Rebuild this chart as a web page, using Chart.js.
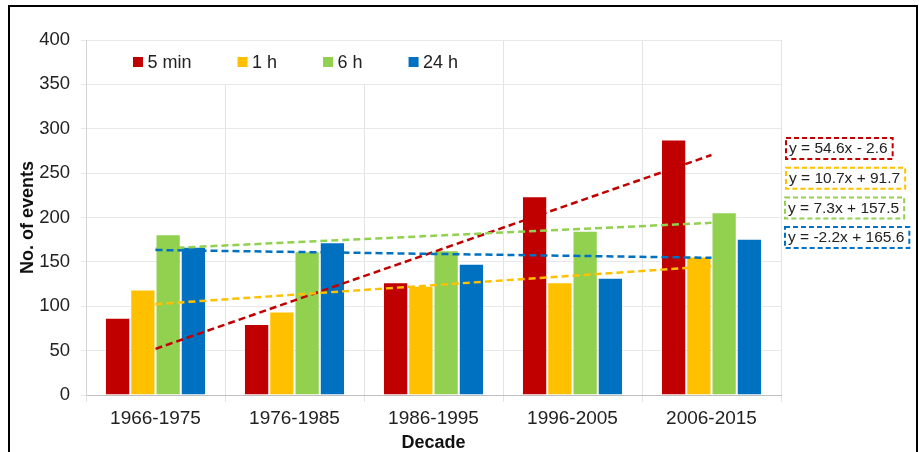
<!DOCTYPE html>
<html>
<head>
<meta charset="utf-8">
<script src="https://cdn.jsdelivr.net/npm/chart.js@4.4.1/dist/chart.umd.min.js"></script>
<style>
  html, body { margin: 0; padding: 0; background: #fff; }
  #wrap { position: relative; width: 919px; height: 452px; }
</style>
</head>
<body>
<div id="wrap"><canvas id="chart" width="919" height="452"></canvas></div>
<script>
// Number of heavy-rain events per decade, by duration
const decades = ['1966-1975', '1976-1985', '1986-1995', '1996-2005', '2006-2015'];
const seriesNames = ['5 min', '1 h', '6 h', '24 h'];
const seriesColors = ['#C00000', '#FFC000', '#92D050', '#0070C0'];
const events5min = [87, 80, 127, 224, 288];
const events1h = [119, 94, 123, 127, 156];
const events6h = [181, 162, 163, 185, 206];
const events24h = [167, 172, 148, 132, 176];

// Linear trends (x = decade number 1..5)
const trendSlope = [54.6, 10.7, 7.3, -2.2];
const trendIntercept = [-2.6, 91.7, 157.5, 165.6];

const yMin = 0, yMax = 400, yStep = 50;

const FONT = "'Liberation Sans', Arial, Helvetica, sans-serif";
Chart.defaults.font.family = FONT;
Chart.defaults.color = '#222';

const seriesValues = [events5min, events1h, events6h, events24h];

const barSets = seriesValues.map((vals, i) => ({
  type: 'bar',
  label: seriesNames[i],
  data: vals,
  backgroundColor: seriesColors[i],
  borderColor: 'rgba(255,255,255,0.35)',
  borderWidth: 1,
  categoryPercentage: 0.727,
  barPercentage: 1,
  order: 2
}));

const trendSets = seriesValues.map((vals, i) => ({
  type: 'line',
  label: 'trend ' + seriesNames[i],
  data: decades.map((_, k) => trendIntercept[i] + trendSlope[i] * (k + 1)),
  borderColor: seriesColors[i],
  borderDash: [7, 4],
  borderWidth: 2.5,
  pointRadius: 0,
  fill: false,
  tension: 0,
  order: 1 - i * 0.1
}));

function equationText(i) {
  const b = trendIntercept[i];
  return 'y = ' + trendSlope[i].toFixed(1) + 'x ' + (b < 0 ? '- ' : '+ ') + Math.abs(b).toFixed(1);
}

// In-plot legend, trend equations and outer frame
const decorations = {
  id: 'decorations',
  beforeDatasetsDraw(chart) {
    const ctx = chart.ctx;
    const area = chart.chartArea;
    ctx.save();
    ctx.fillStyle = '#fff';
    ctx.fillRect(area.left + 1, area.top + 1, 400, 43);
    ctx.font = '18px ' + FONT;
    ctx.textBaseline = 'middle';
    let x = 133;
    const yc = 62;
    chart.data.datasets.forEach(ds => {
      if (ds.type !== 'bar') return;
      ctx.fillStyle = ds.backgroundColor;
      ctx.fillRect(x, yc - 5, 10, 10);
      ctx.fillStyle = '#222';
      ctx.fillText(ds.label, x + 14.5, yc + 1);
      x += 14.5 + ctx.measureText(ds.label).width + 46;
    });
    ctx.restore();
  },
  afterDraw(chart) {
    const ctx = chart.ctx;
    ctx.save();
    ctx.font = '15.5px ' + FONT;
    ctx.textBaseline = 'middle';
    seriesNames.forEach((_, i) => {
      const txt = equationText(i);
      const w = ctx.measureText(txt).width + 8;
      const left = 786 - (i >= 2 ? 1 : 0);
      const top = 138 + i * 29.7;
      ctx.fillStyle = '#fff';
      ctx.fillRect(left, top, w, 21);
      ctx.setLineDash([5, 3]);
      ctx.lineWidth = 2;
      ctx.strokeStyle = seriesColors[i];
      ctx.strokeRect(left, top, w, 21);
      ctx.setLineDash([]);
      ctx.fillStyle = '#222';
      ctx.fillText(txt, left + 3, top + 11);
    });
    ctx.lineWidth = 2;
    ctx.strokeStyle = '#000';
    ctx.strokeRect(9, 6, 908, 600);
    ctx.restore();
  }
};

new Chart(document.getElementById('chart'), {
  data: {
    labels: decades,
    datasets: [...barSets, ...trendSets]
  },
  options: {
    responsive: false,
    animation: false,
    events: [],
    layout: { padding: { left: 10, top: 40, right: 138, bottom: 0 } },
    plugins: {
      legend: { display: false },
      tooltip: { enabled: false }
    },
    scales: {
      x: {
        type: 'category',
        grid: { offset: true, color: '#e4e4e4', tickLength: 7, lineWidth: 1 },
        border: { color: '#bfbfbf' },
        ticks: { font: { size: 19 }, color: '#222', padding: 5, maxRotation: 0 },
        title: {
          display: true, text: 'Decade', color: '#111',
          font: { size: 18, weight: 'bold', lineHeight: 1 }, padding: 0
        },
        afterFit(s) { s.height = 57; }
      },
      y: {
        min: yMin, max: yMax,
        ticks: { stepSize: yStep, font: { size: 18.5 }, color: '#222', padding: 11 },
        grid: { color: '#e8e8e8', tickLength: 5 },
        border: { color: '#d4d4d4' },
        title: {
          display: true, text: 'No. of events', color: '#111',
          font: { size: 18, weight: 'bold', lineHeight: 1 }, padding: { top: 9, bottom: 0 }
        },
        afterFit(s) { s.width = 76; }
      }
    }
  },
  plugins: [decorations]
});
</script>
</body>
</html>
